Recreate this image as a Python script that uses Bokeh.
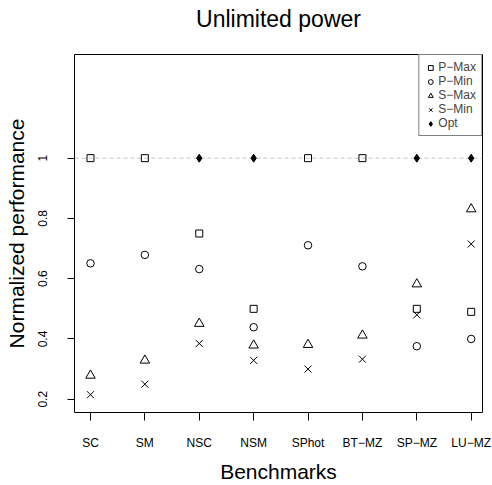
import numpy as np
from bokeh.plotting import figure
from bokeh.models import (Range1d, FixedTicker, Span, Legend, LegendItem, Title)
from bokeh.embed import file_html
from bokeh.resources import INLINE

# ---- data ----
benchmarks = ["SC", "SM", "NSC", "NSM", "SPhot", "BT\u2212MZ", "SP\u2212MZ", "LU\u2212MZ"]
p_max = [1.0, 1.0, 0.75, 0.50, 1.0, 1.0, 0.50, 0.49]
p_min = [0.651, 0.679, 0.632, 0.439, 0.711, 0.641, 0.376, 0.400]
s_max = [0.279, 0.329, 0.451, 0.379, 0.381, 0.412, 0.582, 0.831]
s_min = [0.215, 0.250, 0.385, 0.329, 0.300, 0.333, 0.480, 0.715]
opt_idx = [3, 4, 7, 8]          # benchmark positions (1-based) where Opt is shown
opt_val = [1.0, 1.0, 1.0, 1.0]
y_ticks = [0.2, 0.4, 0.6, 0.8, 1.0]
y_tick_labels = ["0.2", "0.4", "0.6", "0.8", "1"]
series_names = ["P\u2212Max", "P\u2212Min", "S\u2212Max", "S\u2212Min", "Opt"]
title_text = "Unlimited power"

xs = list(range(1, len(benchmarks) + 1))
FONT = "Liberation Sans"

p = figure(width=492, height=485, output_backend="svg", toolbar_location=None,
           x_range=Range1d(0.706, 8.208), y_range=Range1d(0.156, 1.344),
           min_border_left=74, min_border_right=10, min_border_top=54, min_border_bottom=72)

p.background_fill_color = "white"
p.border_fill_color = "white"
p.outline_line_color = "black"
p.outline_line_width = 1
p.xgrid.visible = False
p.ygrid.visible = False

# trailing empty line makes the title box taller so the text sits higher
p.add_layout(Title(text=title_text + "\n", align="center", vertical_align="top",
                   text_font=FONT, text_font_size="23px", text_font_style="normal",
                   text_line_height=0.75, text_color="black", standoff=2), "above")

# reference line
p.add_layout(Span(location=1.0, dimension="width", line_color="#c4c4c4",
                  line_dash="4 3", line_width=1, level="underlay"))

r1 = p.scatter(xs, p_max, marker="square", size=7, fill_color=None, line_color="black", line_width=1)
r2 = p.scatter(xs, p_min, marker="circle", size=7.5, fill_color=None, line_color="black", line_width=1)
r3 = p.scatter(xs, s_max, marker="triangle", size=9.5, fill_color=None, line_color="black", line_width=1)
r4 = p.scatter(xs, s_min, marker="x", size=10, line_color="black", line_width=1)
r5 = p.scatter(opt_idx, opt_val, marker="diamond", size=8, fill_color="black", line_color="black", line_width=1)

xa = p.below[0]
ya = p.left[0]
for ax in (xa, ya):
    ax.axis_line_color = None
    ax.major_tick_in = 0
    ax.minor_tick_in = 0
    ax.minor_tick_out = 0
    ax.major_tick_line_color = "black"
    ax.major_label_text_font = FONT
    ax.major_label_text_font_size = "12px"
    ax.major_label_text_color = "black"
    ax.axis_label_text_font = FONT
    ax.axis_label_text_font_size = "21px"
    ax.axis_label_text_font_style = "normal"
    ax.axis_label_text_color = "black"

xa.ticker = FixedTicker(ticks=xs)
xa.major_label_overrides = {x: b for x, b in zip(xs, benchmarks)}
xa.major_tick_out = 8
xa.major_label_standoff = 15
xa.axis_label = "Benchmarks"
xa.axis_label_standoff = 7

ya.ticker = FixedTicker(ticks=y_ticks)
ya.major_label_overrides = {t: l for t, l in zip(y_ticks, y_tick_labels)}
ya.major_label_orientation = "vertical"
ya.major_tick_out = 7
ya.major_label_standoff = 20
ya.axis_label = "Normalized performance"
ya.axis_label_standoff = 8

legend = Legend(items=[LegendItem(label=n, renderers=[r]) for n, r in
                       zip(series_names, [r1, r2, r3, r4, r5])],
                location="top_right", margin=0, padding=5, spacing=0,
                glyph_width=12, glyph_height=13, label_height=13, label_width=10,
                label_standoff=2,
                label_text_font=FONT, label_text_font_size="12px",
                border_line_color="black", border_line_width=1,
                background_fill_color="white", background_fill_alpha=1)
p.add_layout(legend, "center")

open("out.html", "w").write(file_html(p, INLINE))
